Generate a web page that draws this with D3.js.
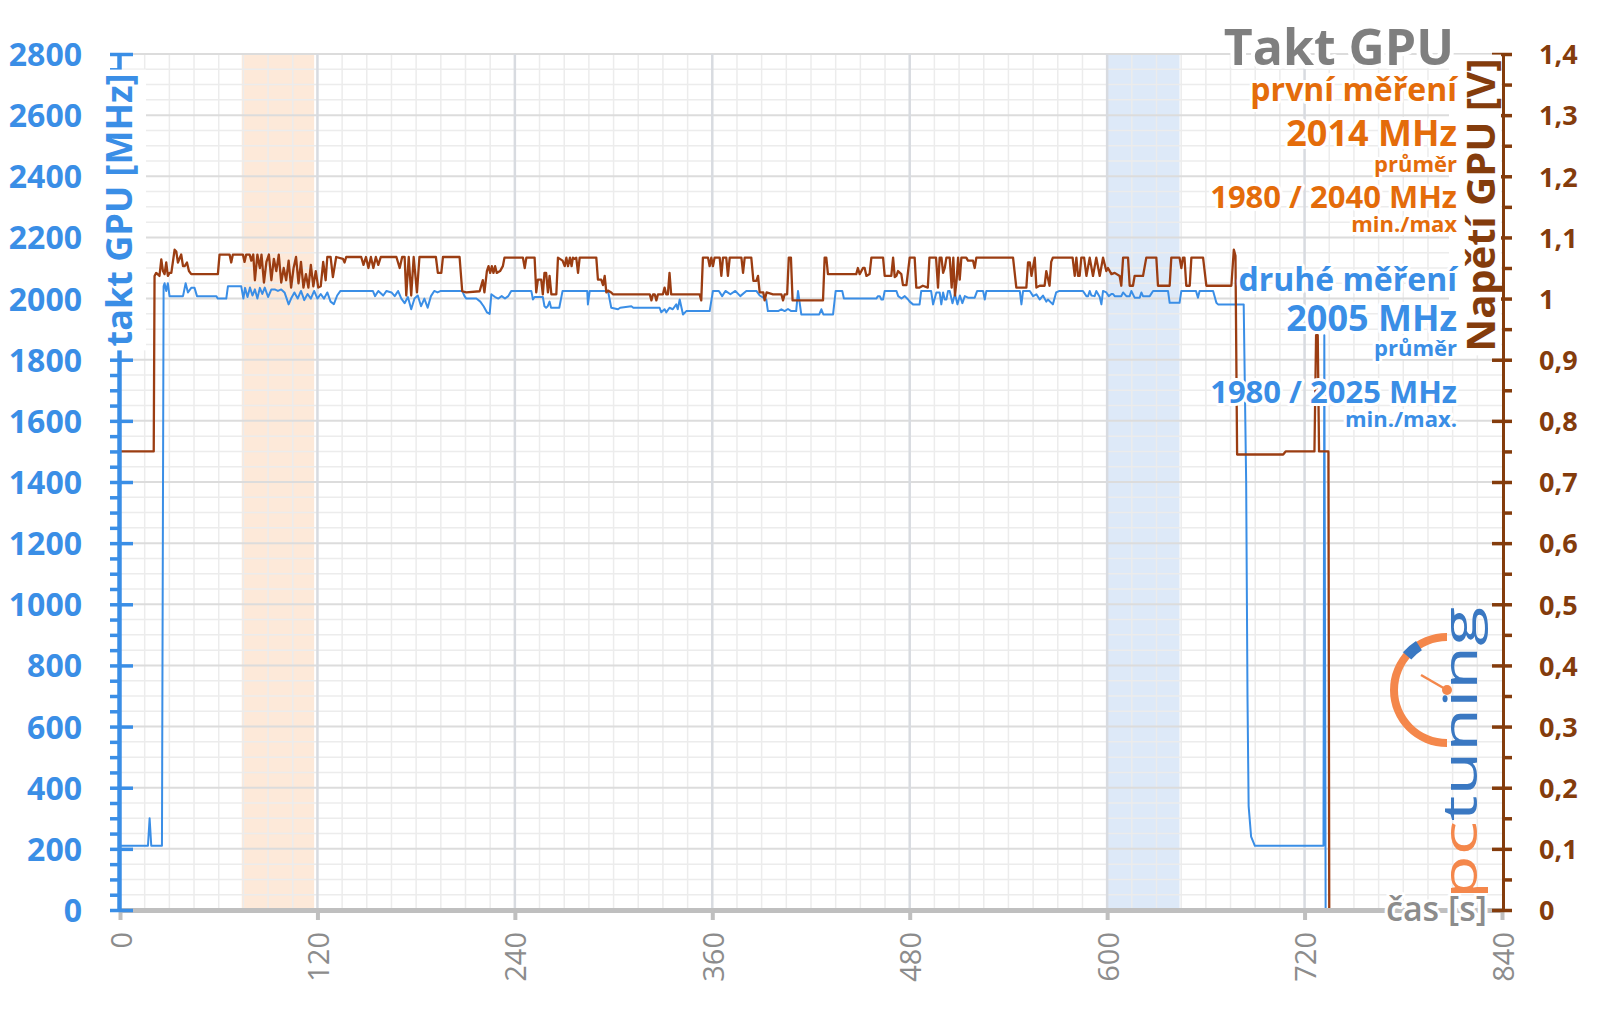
<!DOCTYPE html>
<html>
<head>
<meta charset="utf-8">
<script src="https://cdn.jsdelivr.net/npm/d3@7"></script>
<style>
  html, body { margin: 0; padding: 0; background: #fff; }
  svg { display: block; }
  text { font-family: 'Open Sans', sans-serif; }
</style>
</head>
<body>
<div id="chart"></div>
<script>
// ---- data ----
const timeTicks = [0, 120, 240, 360, 480, 600, 720, 840];
const clockTicks = d3.range(0, 2801, 200);
const voltTicks = d3.range(0, 15).map(i => i / 10);

const bands = [
  { from: 74, to: 118, color: '#fde9d9' },
  { from: 600, to: 644, color: '#dde9f8' }
];

// [time s, clock MHz]
const clockSeries = [
  [0,210],[17,210],[18,300],[19,210],[25.5,210],[26.5,2040],[27.1,2050],[28.1,2025],[29.1,2050],[30.1,2008],
  [38.3,2008],[39.9,2050],[41.3,2020],[43.3,2035],[45.3,2035],[46.8,2008],[58.5,2008],[59.5,2000],[64.6,2000],
  [65.6,2040],[73.7,2040],[75,2000],[76,2035],[77.5,2005],[79,2036],[80.5,2010],[82,2030],[83.5,2000],[85,2035],
  [86.5,2015],[88,2036],[90,2005],[92,2030],[94,2030],[96,2025],[98,2030],[100,2020],[101,2005],[102.5,1981],
  [104,2000],[106,2020],[108,2000],[110,2025],[112,1995],[114,2015],[116,2000],[118,2025],[120,2000],[122,2015],
  [124,2000],[126,2020],[128,1990],[130,1982],[132,2010],[134,2025],[153.7,2025],[155,2008],[157,2025],[160,2010],
  [162,2025],[165,2020],[167,2008],[169,2025],[171,2000],[173,1985],[175,2005],[177,1965],[179,2000],[181,2010],
  [183,1975],[185,2000],[187,1970],[189,2008],[191,2025],[193,2020],[195,2025],[208,2025],[209.4,2008],[210.5,2000],
  [216.6,2000],[219,1990],[221,1975],[223,1955],[224.7,1950],[225.7,2014],[228,2005],[230,2000],[232,2008],[234,2000],
  [236,2008],[237.8,2025],[250,2025],[251,1997],[252,2005],[257,2005],[258,1975],[259,1970],[260,1975],[261.1,1990],
  [262,1970],[267,1970],[269,2025],[284,2025],[284.4,1981],[285.5,2025],[296.6,2025],[298.6,1970],[302.7,1965],
  [304,1970],[310.8,1975],[312,1970],[328,1970],[329,1955],[331,1965],[332,1955],[334,1970],[336,1965],[338.1,1981],
  [339,1965],[340.2,1997],[342.2,1948],[344.2,1959],[358.4,1959],[360.4,2025],[364,2025],[366,2008],[368,2025],
  [371,2014],[374,2025],[377,2008],[380.7,2025],[386.8,2025],[388.8,2010],[392.8,1997],[393.8,1959],[400,1959],
  [402,1965],[404,1959],[406,1966],[408,1959],[411,1959],[412.1,2025],[414.1,1948],[425,1948],[426.3,1965],
  [427.5,1948],[433.4,1948],[435,2025],[439,2025],[440,2000],[459.7,2000],[460.7,2008],[461.8,2008],[462.8,1997],
  [463.8,1997],[464.8,2025],[471.9,2025],[473,2008],[475,2000],[477,2008],[479,1997],[480,1990],[482,1981],[486,1981],
  [487,2025],[493,2025],[494.2,1981],[496.2,2020],[498.2,2020],[499.2,1981],[500.3,2020],[501.3,1997],[502.3,1997],
  [503.3,2025],[504.3,2025],[506,1985],[507.5,2015],[509,1981],[510.5,2010],[512,1985],[513.5,2008],[515.4,2003],
  [519.5,2003],[521,2025],[524.6,2025],[525.6,1997],[526.6,2025],[546.9,2025],[547.9,1981],[548.9,2025],[553,2025],
  [555,2008],[557,2014],[559,1997],[561,2010],[563,1990],[564,1997],[567,1981],[569,2020],[571,2025],[585.3,2025],
  [587.4,2008],[588.4,2008],[589.4,2025],[590.4,2010],[592.4,2008],[593.4,2025],[595.5,2005],[596.5,1981],[597.5,2025],
  [599.5,2020],[601,2008],[602.6,2015],[603.6,2015],[604.6,2008],[608.6,2008],[609.7,2020],[611.7,2008],[613.7,2008],
  [614.7,2025],[616.7,2003],[619.8,2003],[620.8,2020],[621.8,2008],[625.9,2008],[627.9,2025],[637,2025],[638,1986],
  [644,1986],[645.1,2025],[654,2025],[655.2,2003],[656.2,2025],[664.4,2025],[666.4,1986],[667.4,1981],[683,1981],
  [684.5,1400],[685.3,700],[686,340],[687.5,240],[689.8,210],[731.5,210],[732,1880],[732.8,0]
];

// [time s, voltage V]
const voltSeries = [
  [0,0.75],[20.5,0.75],[21,1.037],[22,1.042],[24,1.037],[25.1,1.064],[26.1,1.045],[27.1,1.04],[28.1,1.059],[29.1,1.037],
  [30.1,1.042],[31.2,1.042],[33.2,1.08],[34.2,1.077],[35.2,1.059],[37.2,1.072],[38.3,1.053],[39.3,1.053],[40.7,1.059],
  [41.9,1.045],[43.3,1.04],[59.5,1.04],[60.5,1.072],[66.6,1.072],[67.6,1.059],[68.6,1.072],[74.7,1.072],[75.7,1.06],
  [76.7,1.072],[78.8,1.072],[79.8,1.062],[81,1.072],[82,1.03],[83.5,1.072],[85,1.05],[86,1.072],[87.5,1.026],[89,1.06],
  [90.5,1.072],[92,1.03],[93.5,1.065],[95,1.045],[96.5,1.072],[98,1.026],[99.5,1.05],[101,1.03],[102.5,1.062],
  [104,1.018],[105.5,1.05],[107,1.068],[108.5,1.025],[110,1.06],[111.5,1.018],[113,1.04],[114.5,1.018],[116,1.055],
  [117.5,1.02],[119,1.045],[120.5,1.018],[122,1.02],[123.5,1.06],[125,1.03],[126,1.068],[128,1.068],[129.4,1.035],
  [131.4,1.068],[135.5,1.065],[136.5,1.059],[137.5,1.068],[146.6,1.068],[148,1.055],[149.5,1.068],[151,1.05],
  [152.5,1.068],[154,1.05],[155.5,1.068],[157,1.055],[158.5,1.068],[168,1.068],[170,1.05],[171.5,1.068],[173,1.068],
  [174,1.005],[175.5,1.068],[177,1.005],[178.5,1.068],[180.5,1.01],[182,1.068],[192,1.068],[193.2,1.042],[195.3,1.042],
  [196.3,1.068],[206.4,1.068],[208,1.012],[210.5,1.01],[218.6,1.012],[220.5,1.03],[221.5,1.01],[223,1.045],[224,1.053],
  [225,1.042],[226,1.053],[227,1.042],[228,1.053],[229,1.042],[231,1.045],[232.7,1.053],[233.7,1.067],[244.9,1.067],
  [246,1.05],[247,1.067],[252,1.067],[253,1.01],[254,1.031],[256,1.031],[257,1.007],[258,1.042],[259,1.042],[260.1,1.01],
  [261.1,1.037],[262.2,1.007],[265.2,1.007],[266.2,1.067],[269,1.062],[270.3,1.053],[271.3,1.067],[272.3,1.053],
  [273.5,1.067],[274.5,1.053],[275.3,1.067],[276.3,1.065],[277.3,1.067],[278.4,1.042],[279.4,1.067],[289.5,1.067],
  [290.5,1.031],[292.5,1.031],[293.6,1.022],[294.6,1.037],[295.6,1.01],[296.6,1.013],[298.6,1.01],[299.6,1.007],
  [322,1.007],[323,0.997],[324,1.007],[325,1.007],[326,0.997],[327,1.007],[330,1.007],[331,1.018],[332,1.007],
  [333,1.007],[334,1.042],[335,1.007],[352.3,1.007],[353.3,0.997],[354.3,1.067],[357.4,1.067],[358.4,1.053],
  [359.4,1.067],[360.4,1.053],[361.4,1.067],[364.5,1.067],[365.5,1.037],[366.5,1.067],[368.5,1.067],[369.5,1.037],
  [370.6,1.067],[377.7,1.067],[378.7,1.042],[379.7,1.067],[383.7,1.067],[385,1.029],[386.8,1.029],[387.8,1.037],
  [388.8,1.01],[391,1.01],[391.8,0.997],[393,1.01],[396.9,1.007],[402,1.007],[403,0.997],[404,1.007],[405.5,1.007],
  [406.5,1.067],[407.8,1.067],[408.8,0.997],[427.3,0.997],[428.3,1.067],[429.3,1.067],[430.3,1.04],[447.5,1.04],
  [448.5,1.05],[449.6,1.04],[451.6,1.05],[452.6,1.05],[453.7,1.037],[455.6,1.04],[456.7,1.067],[463.8,1.067],
  [464.8,1.037],[468.8,1.037],[469.9,1.067],[470.9,1.035],[471.9,1.037],[472.9,1.045],[474.9,1.04],[475.9,1.022],
  [478,1.022],[480,1.067],[483,1.067],[484,1.018],[486,1.018],[488,1.021],[491,1.018],[492,1.067],[496,1.067],
  [497.2,1.018],[498.2,1.067],[499.3,1.067],[500.3,1.042],[501.3,1.05],[502.3,1.067],[504.3,1.067],[505.5,1.018],
  [506.5,1.067],[507.5,1.005],[508.5,1.03],[509.4,1.067],[510.4,1.031],[511.4,1.067],[514.4,1.067],[515.4,1.062],
  [518.5,1.062],[519.5,1.05],[520.5,1.067],[542.8,1.067],[544.8,1.018],[550.9,1.018],[551.9,1.059],[553,1.059],
  [554,1.037],[556,1.067],[557,1.018],[559,1.021],[562,1.021],[563,1.045],[565,1.021],[566,1.06],[567,1.067],
  [579,1.067],[580.3,1.037],[581.3,1.067],[582.3,1.037],[583.3,1.037],[584.3,1.067],[586,1.067],[587.4,1.037],
  [589.4,1.067],[591.4,1.037],[593.4,1.067],[595.5,1.037],[597.5,1.067],[599.5,1.045],[600.5,1.05],[602.6,1.04],
  [604.6,1.042],[607.6,1.037],[608.6,1.021],[609.7,1.067],[612.7,1.067],[613.7,1.021],[615.7,1.021],[616.7,1.037],
  [621.8,1.037],[623.8,1.067],[629.9,1.067],[630.9,1.021],[638,1.021],[639,1.067],[644,1.067],[645.1,1.05],
  [646.1,1.067],[647,1.067],[648.1,1.021],[650.2,1.021],[651.2,1.067],[658.3,1.067],[660.3,1.021],[675.5,1.021],
  [677,1.08],[678,1.07],[679,0.745],[707,0.745],[708.5,0.75],[726,0.75],[727,0.94],[728,0.94],[728.8,0.75],
  [734.5,0.75],[735,0],[766,0]
];

const firstRun = { name: 'první měření', avg: '2014 MHz', avgLabel: 'průměr', range: '1980 / 2040 MHz', rangeLabel: 'min./max' };
const secondRun = { name: 'druhé měření', avg: '2005 MHz', avgLabel: 'průměr', range: '1980 / 2025 MHz', rangeLabel: 'min./max.' };

// ---- chart ----
const cfg = {
  width: 1600, height: 1009,
  margin: { top: 54, right: 98, bottom: 99, left: 120 },
  blue: '#3a8ee6', brown: '#843c0c', brownLine: '#9b3d12', orange: '#e46c0a', gray: '#8c8c8c'
};
const x0 = cfg.margin.left, x1 = cfg.width - cfg.margin.right;
const y0 = cfg.height - cfg.margin.bottom, y1 = cfg.margin.top;

const svg = d3.select('#chart').append('svg')
  .attr('width', cfg.width).attr('height', cfg.height);

const x = d3.scaleLinear().domain([0, 840]).range([x0, x1]);
const y = d3.scaleLinear().domain([0, 2800]).range([y0, y1]);
const yv = d3.scaleLinear().domain([0, 1.4]).range([y0, y1]);

// highlighted windows
svg.append('g').selectAll('rect').data(bands).enter().append('rect')
  .attr('x', d => x(d.from)).attr('width', d => x(d.to) - x(d.from))
  .attr('y', y1).attr('height', y0 - y1)
  .attr('fill', d => d.color);

// grid
const grid = svg.append('g');
grid.selectAll('.vmin').data(d3.range(0, 841, 15).filter(t => t % 120)).enter().append('line')
  .attr('x1', d => x(d)).attr('x2', d => x(d)).attr('y1', y1).attr('y2', y0)
  .attr('stroke', '#ececec').attr('stroke-width', 1.5);
grid.selectAll('.hmin').data(d3.range(0, 2801, 50).filter(v => v % 200)).enter().append('line')
  .attr('x1', x0).attr('x2', x1).attr('y1', d => y(d)).attr('y2', d => y(d))
  .attr('stroke', '#ececec').attr('stroke-width', 1.5);
grid.selectAll('.hmaj').data(clockTicks.slice(1)).enter().append('line')
  .attr('x1', x0).attr('x2', x1).attr('y1', d => y(d)).attr('y2', d => y(d))
  .attr('stroke', '#dcdcdc').attr('stroke-width', 2);
grid.selectAll('.vmaj').data(timeTicks.slice(1, -1)).enter().append('line')
  .attr('x1', d => x(d)).attr('x2', d => x(d)).attr('y1', y1).attr('y2', y0)
  .attr('stroke', '#d8dbe0').attr('stroke-width', 2.5);

// series
svg.append('path').datum(clockSeries)
  .attr('fill', 'none').attr('stroke', cfg.blue).attr('stroke-width', 2).attr('stroke-linejoin', 'round')
  .attr('d', d3.line().x(d => x(d[0])).y(d => y(d[1])));
svg.append('path').datum(voltSeries)
  .attr('fill', 'none').attr('stroke', cfg.brownLine).attr('stroke-width', 2.3).attr('stroke-linejoin', 'round')
  .attr('d', d3.line().x(d => x(d[0])).y(d => yv(d[1])));

// bottom axis
const gx = svg.append('g').attr('transform', `translate(0,${y0})`)
  .call(d3.axisBottom(x).tickValues(timeTicks).tickSize(10).tickSizeOuter(0));
gx.select('.domain').attr('stroke', '#bfbfbf').attr('stroke-width', 5);
gx.selectAll('.tick line').attr('stroke', '#bfbfbf').attr('stroke-width', 4);
gx.selectAll('.tick text')
  .attr('x', 0).attr('y', 0).attr('dy', 0)
  .attr('transform', 'translate(11,22) rotate(-90)')
  .attr('text-anchor', 'end')
  .attr('fill', cfg.gray).style('font-size', '29px').style('font-family', "'Open Sans', sans-serif");

// pctuning watermark (under the axis label)
const logo = svg.append('g');
const c = { x: 1447, y: 690 };
logo.append('path').attr('transform', `translate(${c.x},${c.y})`)
  .attr('d', d3.arc().innerRadius(49).outerRadius(57).startAngle(Math.PI).endAngle(2 * Math.PI)())
  .attr('fill', '#f4874b');
logo.append('path').attr('transform', `translate(${c.x},${c.y})`)
  .attr('d', d3.arc().innerRadius(47).outerRadius(58).startAngle(5.42).endAngle(5.72)())
  .attr('fill', '#3a78c2');
logo.append('line').attr('x1', c.x).attr('y1', c.y).attr('x2', c.x - 26).attr('y2', c.y - 15)
  .attr('stroke', '#f4874b').attr('stroke-width', 2.5);
logo.append('circle').attr('cx', c.x).attr('cy', c.y).attr('r', 5).attr('fill', '#f4874b');
const lt = logo.append('text').attr('transform', 'translate(1477,899) rotate(-90)')
  .attr('font-size', 48).attr('font-weight', 400)
  .attr('textLength', 292).attr('lengthAdjust', 'spacingAndGlyphs');
lt.append('tspan').attr('fill', '#f4874b').text('pc');
lt.append('tspan').attr('fill', '#3a78c2').text('tuning');

svg.append('text')
  .attr('x', 1386).attr('y', 921)
  .attr('fill', cfg.gray).attr('font-size', 34).attr('font-weight', 600)
  .attr('stroke', '#fff').attr('stroke-width', 6).attr('stroke-linejoin', 'round').style('paint-order', 'stroke')
  .text('čas [s]');

// left axis
const gl = svg.append('g').attr('transform', `translate(${x0 - 1},0)`);
gl.append('g').call(d3.axisLeft(y).tickValues(d3.range(0, 2801, 50)).tickSize(9).tickSizeOuter(0).tickFormat(''));
gl.append('g').call(d3.axisLeft(y).tickValues(clockTicks).tickSize(-14).tickSizeOuter(0).tickFormat(''));
gl.selectAll('.domain').attr('stroke', cfg.blue).attr('stroke-width', 4);
gl.selectAll('.tick line').attr('stroke', cfg.blue).attr('stroke-width', 3.5);
const glLab = gl.append('g').call(d3.axisLeft(y).tickValues(clockTicks).tickSize(0).tickPadding(37).tickSizeOuter(0)
  .tickFormat(d3.format('d')));
glLab.select('.domain').remove();
glLab.selectAll('text').attr('fill', cfg.blue).style('font-size', '32px').style('font-weight', 700)
  .style('font-family', "'Open Sans', sans-serif").attr('dy', '0.36em');

// right axis
const gr = svg.append('g').attr('transform', `translate(${x1 + 1},0)`);
gr.append('g').call(d3.axisRight(yv).tickValues(d3.range(0, 29).map(i => i / 20)).tickSize(9).tickSizeOuter(0).tickFormat(''));
gr.append('g').call(d3.axisRight(yv).tickValues(voltTicks).tickSize(-11).tickSizeOuter(0).tickFormat(''));
gr.selectAll('.domain').attr('stroke', cfg.brown).attr('stroke-width', 3);
gr.selectAll('.tick line').attr('stroke', cfg.brown).attr('stroke-width', 3.5);
const grLab = gr.append('g').call(d3.axisRight(yv).tickValues(voltTicks).tickSize(0).tickPadding(36).tickSizeOuter(0)
  .tickFormat(d => d3.format('.1~f')(d).replace('.', ',')));
grLab.select('.domain').remove();
grLab.selectAll('text').attr('fill', cfg.brown).style('font-size', '27px').style('font-weight', 700)
  .style('font-family', "'Open Sans', sans-serif").attr('dy', '0.36em');

// axis titles on white boxes
function axisTitle(tx, ty, label, color, size, maxRight) {
  const g = svg.append('g').attr('transform', `translate(${tx},${ty}) rotate(-90)`);
  const box = g.append('rect').attr('fill', '#fff');
  const t = g.append('text').attr('text-anchor', 'middle')
    .attr('fill', color).attr('font-size', size).attr('font-weight', 700).text(label);
  const b = t.node().getBBox();
  const bottom = maxRight == null ? b.y + b.height + 3 : Math.min(b.y + b.height + 3, maxRight);
  box.attr('x', b.x - 4).attr('width', b.width + 8).attr('y', b.y - 3).attr('height', bottom - b.y + 3);
}
axisTitle(132, 210, 'takt GPU [MHz]', cfg.blue, 36, null);
axisTitle(1495, 205, 'Napětí GPU [V]', cfg.brown, 40, 6);

// legend block
function legendLine(text, yPos, size, color) {
  svg.append('text')
    .attr('x', 1457).attr('y', yPos).attr('text-anchor', 'end')
    .attr('fill', color).attr('font-size', size).attr('font-weight', 700)
    .attr('stroke', '#fff').attr('stroke-width', 6).attr('stroke-linejoin', 'round').style('paint-order', 'stroke')
    .text(text);
}
svg.append('text')
  .attr('x', 1454).attr('y', 65).attr('text-anchor', 'end')
  .attr('fill', '#7f7f7f').attr('font-size', 50).attr('font-weight', 700)
  .attr('stroke', '#fff').attr('stroke-width', 8).attr('stroke-linejoin', 'round').style('paint-order', 'stroke')
  .text('Takt GPU');
legendLine(firstRun.name, 101, 32, cfg.orange);
legendLine(firstRun.avg, 146, 36, cfg.orange);
legendLine(firstRun.avgLabel, 172, 22, cfg.orange);
legendLine(firstRun.range, 208, 31, cfg.orange);
legendLine(firstRun.rangeLabel, 232, 22, cfg.orange);
legendLine(secondRun.name, 291, 32, cfg.blue);
legendLine(secondRun.avg, 331, 36, cfg.blue);
legendLine(secondRun.avgLabel, 356, 22, cfg.blue);
legendLine(secondRun.range, 403, 31, cfg.blue);
legendLine(secondRun.rangeLabel, 427, 22, cfg.blue);
</script>
</body>
</html>
